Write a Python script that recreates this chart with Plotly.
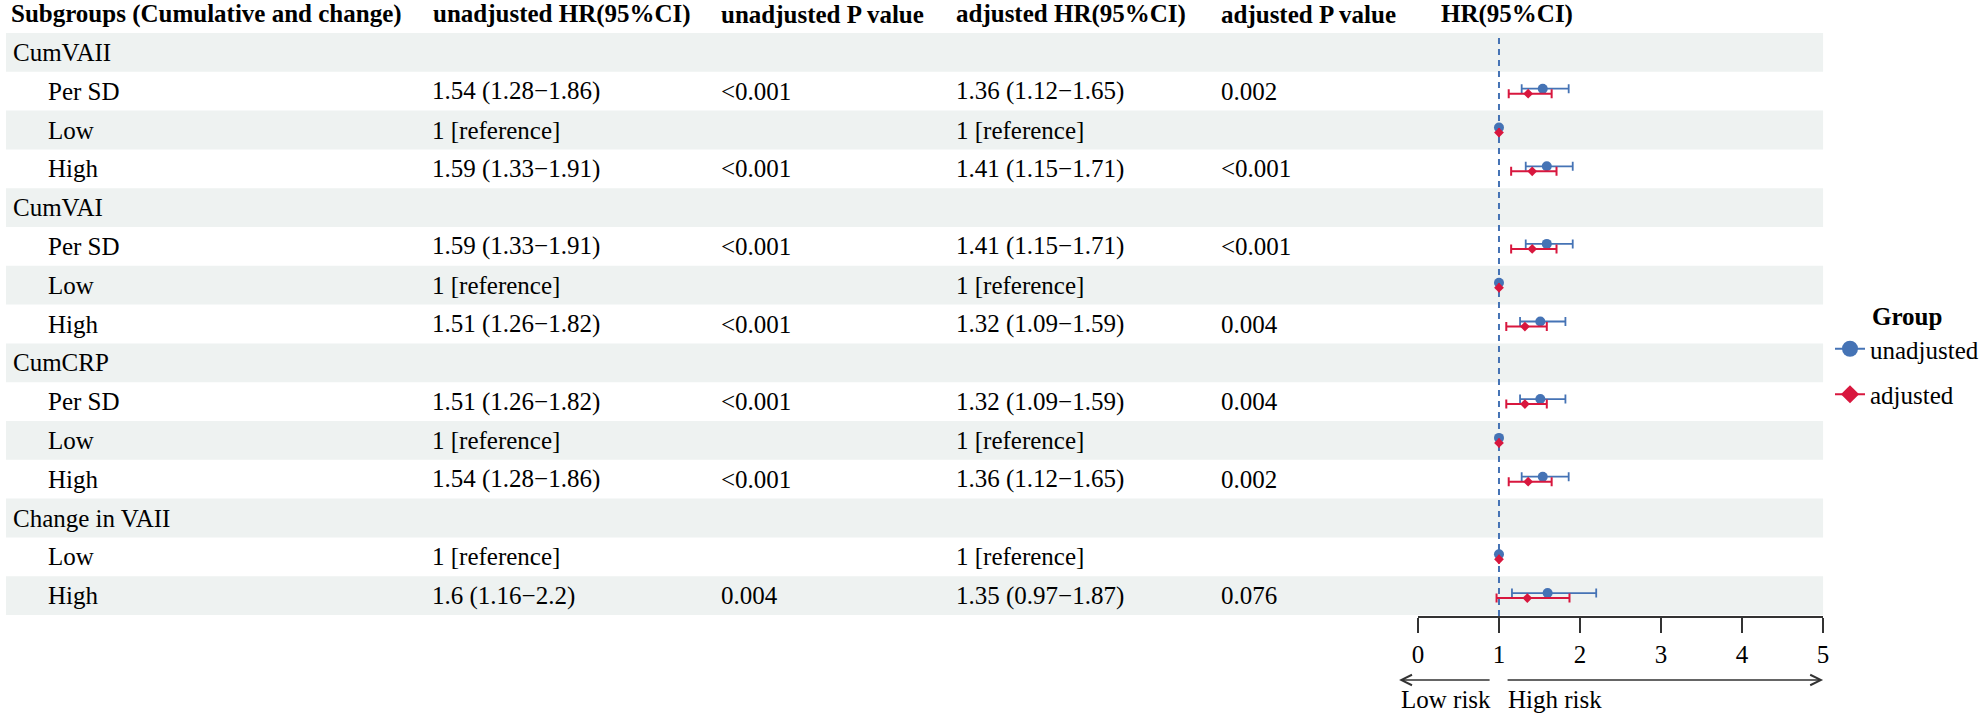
import plotly.graph_objects as go

# ---------------- data ----------------
subgroups = ["CumVAII", "Per SD", "Low", "High",
             "CumVAI", "Per SD", "Low", "High",
             "CumCRP", "Per SD", "Low", "High",
             "Change in VAII", "Low", "High"]
is_group = [True, False, False, False,
            True, False, False, False,
            True, False, False, False,
            True, False, False]
is_reference = [False, False, True, False,
                False, False, True, False,
                False, False, True, False,
                False, True, False]

unadj_hr = [None, 1.54, 1, 1.59, None, 1.59, 1, 1.51, None, 1.51, 1, 1.54, None, 1, 1.6]
unadj_lo = [None, 1.28, 1, 1.33, None, 1.33, 1, 1.26, None, 1.26, 1, 1.28, None, 1, 1.16]
unadj_hi = [None, 1.86, 1, 1.91, None, 1.91, 1, 1.82, None, 1.82, 1, 1.86, None, 1, 2.2]
unadj_p = ["", "<0.001", "", "<0.001", "", "<0.001", "", "<0.001", "", "<0.001", "", "<0.001", "", "", "0.004"]

adj_hr = [None, 1.36, 1, 1.41, None, 1.41, 1, 1.32, None, 1.32, 1, 1.36, None, 1, 1.35]
adj_lo = [None, 1.12, 1, 1.15, None, 1.15, 1, 1.09, None, 1.09, 1, 1.12, None, 1, 0.97]
adj_hi = [None, 1.65, 1, 1.71, None, 1.71, 1, 1.59, None, 1.59, 1, 1.65, None, 1, 1.87]
adj_p = ["", "0.002", "", "<0.001", "", "<0.001", "", "0.004", "", "0.004", "", "0.002", "", "", "0.076"]

headers = ["Subgroups (Cumulative and change)", "unadjusted HR(95%CI)", "unadjusted P value",
           "adjusted HR(95%CI)", "adjusted P value", "HR(95%CI)"]
x_ticks = [0, 1, 2, 3, 4, 5]
ref_hr = 1
group_names = ["unadjusted", "adjusted"]

# ---------------- layout constants (pixels) ----------------
W, H = 1984, 716
TOP, ROW_H = 33, 38.8
N = len(subgroups)
AX_X0, AX_X1 = 1422, 1830
AX_Y = 617
COL_X = [5, 427, 718, 955, 1222]
HEAD_X = [3, 428, 718, 955, 1222, 1443]
SUB_INDENT = 40
FONT = "Liberation Serif, Times New Roman, serif"
FS = 25
BLUE = "#4573B5"
RED = "#D8173E"
BAND = "#EEF2F1"
OFF = 0.065


def py(p):  # pixel y -> row units
    return (p - TOP) / ROW_H - 0.5


def px(p):
    return p / W


def fmt_hr(hr, lo, hi, ref):
    if hr is None:
        return ""
    if ref:
        return "1 [reference]"
    return f"{hr} ({lo}\u2212{hi})"


fig = go.Figure()

rows = list(range(N))


def err(hr, lo, hi, ref, side):
    out = []
    for h, l, u, r in zip(hr, lo, hi, ref):
        if h is None or r:
            out.append(None)
        else:
            out.append((u - h) if side == "plus" else (h - l))
    return out


fig.add_trace(go.Scatter(
    x=unadj_hr, y=[r - OFF for r in rows], mode="markers",
    marker=dict(symbol="circle", size=10, color=BLUE),
    error_x=dict(type="data", symmetric=False,
                 array=err(unadj_hr, unadj_lo, unadj_hi, is_reference, "plus"),
                 arrayminus=err(unadj_hr, unadj_lo, unadj_hi, is_reference, "minus"),
                 color=BLUE, thickness=1.8, width=4.5),
    showlegend=False, hoverinfo="skip"))
fig.add_trace(go.Scatter(
    x=adj_hr, y=[r + OFF for r in rows], mode="markers",
    marker=dict(symbol="diamond", size=7.5, color=RED),
    error_x=dict(type="data", symmetric=False,
                 array=err(adj_hr, adj_lo, adj_hi, is_reference, "plus"),
                 arrayminus=err(adj_hr, adj_lo, adj_hi, is_reference, "minus"),
                 color=RED, thickness=2, width=4.5),
    showlegend=False, hoverinfo="skip"))

# legend-only traces
fig.add_trace(go.Scatter(x=[None], y=[None], mode="lines+markers", name=group_names[0],
                         legendgroup="a",
                         line=dict(color=BLUE, width=2), marker=dict(symbol="circle", size=16, color=BLUE)))
fig.add_trace(go.Scatter(x=[None], y=[None], mode="lines+markers", name=group_names[1],
                         legendgroup="b",
                         line=dict(color=RED, width=2), marker=dict(symbol="diamond", size=14, color=RED)))

shapes = []
for i in range(N):
    if i % 2 == 0:
        shapes.append(dict(type="rect", xref="paper", yref="y", x0=0, x1=px(AX_X1),
                           y0=i - 0.5, y1=i + 0.5, fillcolor=BAND, line=dict(width=0), layer="below"))
shapes.append(dict(type="line", xref="x", yref="y", x0=ref_hr, x1=ref_hr, y0=py(38), y1=py(AX_Y),
                   line=dict(color=BLUE, width=2, dash="6px,5px"), layer="below"))
fig.update_layout(shapes=shapes)

ann = []
for j, h in enumerate(headers):
    ann.append(dict(x=px(HEAD_X[j]), y=py(14), xref="paper", yref="y", text=f"<b>{h}</b>",
                    showarrow=False, xanchor="left", yanchor="middle",
                    font=dict(family=FONT, size=FS, color="black")))
for i in range(N):
    cells = [subgroups[i],
             fmt_hr(unadj_hr[i], unadj_lo[i], unadj_hi[i], is_reference[i]),
             unadj_p[i],
             fmt_hr(adj_hr[i], adj_lo[i], adj_hi[i], is_reference[i]),
             adj_p[i]]
    for j, t in enumerate(cells):
        if not t:
            continue
        x = COL_X[j] if (j > 0 or is_group[i]) else SUB_INDENT
        ann.append(dict(x=px(x), y=i, xref="paper", yref="y", text=t, showarrow=False,
                        xanchor="left", yanchor="middle",
                        font=dict(family=FONT, size=FS, color="black")))

# risk arrows (head position + pixel offset of tail)
ARROW_Y = 680
ann.append(dict(x=px(1403), y=1 - ARROW_Y / H, ax=1495 - 1403, ay=0, xref="paper", yref="paper",
                axref="pixel", ayref="pixel", text="", showarrow=True, arrowhead=5, arrowsize=1.6,
                arrowwidth=1.3, arrowcolor="#333333"))
ann.append(dict(x=px(1830), y=1 - ARROW_Y / H, ax=1513 - 1830, ay=0, xref="paper", yref="paper",
                axref="pixel", ayref="pixel", text="", showarrow=True, arrowhead=5, arrowsize=1.6,
                arrowwidth=1.3, arrowcolor="#333333"))
RISK_Y = 699
ann.append(dict(x=px(1403), y=1 - RISK_Y / H, xref="paper", yref="paper", text="Low risk", showarrow=False,
                xanchor="left", yanchor="middle", font=dict(family=FONT, size=FS, color="black")))
ann.append(dict(x=px(1511), y=1 - RISK_Y / H, xref="paper", yref="paper", text="High risk", showarrow=False,
                xanchor="left", yanchor="middle", font=dict(family=FONT, size=FS, color="black")))
# legend title
ann.append(dict(x=px(1877), y=1 - 317 / H, xref="paper", yref="paper", text="<b>Group</b>", showarrow=False,
                xanchor="left", yanchor="middle", font=dict(family=FONT, size=FS, color="black")))
fig.update_layout(annotations=ann)

fig.update_layout(
    width=W, height=H, margin=dict(l=0, r=0, t=0, b=0),
    paper_bgcolor="white", plot_bgcolor="rgba(0,0,0,0)",
    font=dict(family=FONT, size=FS, color="black"),
    xaxis=dict(domain=[px(AX_X0), px(AX_X1)], range=[0, 5], anchor="free", position=1 - AX_Y / H,
               showline=True, linecolor="#333333", linewidth=1.5, ticks="outside", ticklen=15,
               tickwidth=1.5, tickcolor="#333333", tickvals=x_ticks, showgrid=False, zeroline=False,
               tickfont=dict(family=FONT, size=FS, color="black")),
    yaxis=dict(domain=[0, 1], range=[py(H), py(0)], showgrid=False, zeroline=False,
               showticklabels=False, visible=False),
    legend=dict(x=px(1837), y=1 - 326 / H, xanchor="left", yanchor="top",
                font=dict(family=FONT, size=FS, color="black"), bgcolor="rgba(0,0,0,0)",
                traceorder="grouped", tracegroupgap=10, itemwidth=30),
)

# remove the browser's default 8px body margin so the figure sits at the window origin
fig.write_html("out.html", config={"displayModeBar": False},
               post_script="document.body.style.margin='0';document.body.style.overflow='hidden';")
